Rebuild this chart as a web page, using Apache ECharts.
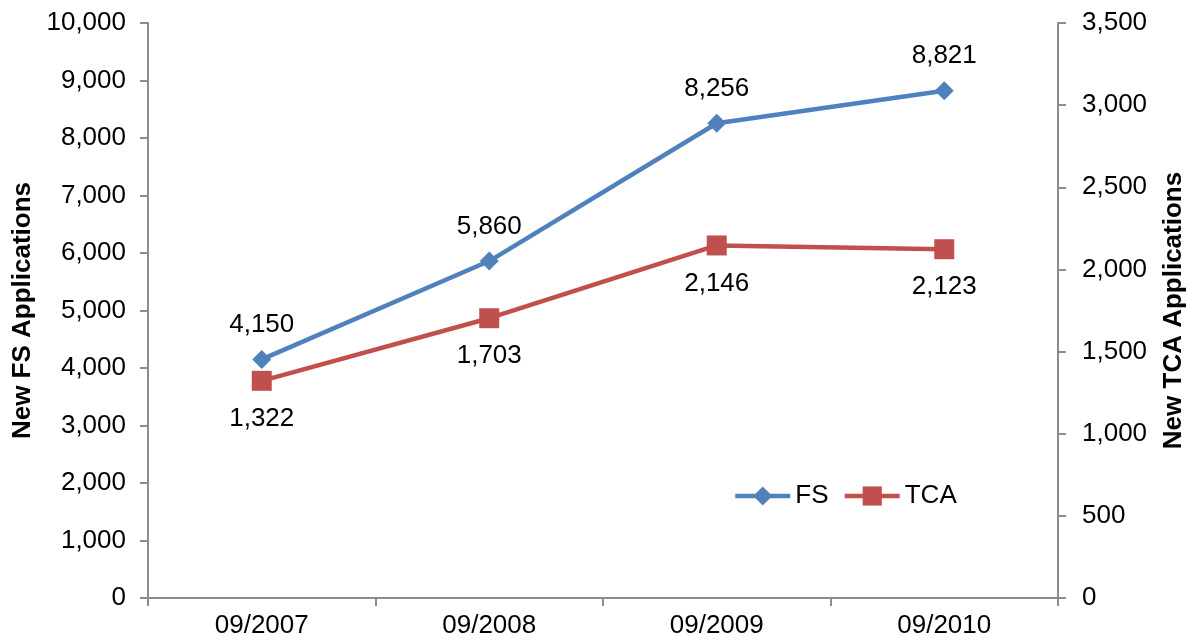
<!DOCTYPE html>
<html><head><meta charset="utf-8">
<script src="https://cdn.jsdelivr.net/npm/echarts@6/dist/echarts.min.js"></script>
<style>html,body{margin:0;padding:0;background:#fff}#c{width:1188px;height:642px}</style>
</head><body><div id="c"></div>
<script>
const categories = ['09/2007', '09/2008', '09/2009', '09/2010'];
const fsValues = [4150, 5860, 8256, 8821];
const tcaValues = [1322, 1703, 2146, 2123];
const leftTicks = {min: 0, max: 10000, interval: 1000};
const rightTicks = {min: 0, max: 3500, interval: 500};

const font = 'Liberation Sans, Arial, sans-serif';
const fmt = v => Number(v).toLocaleString('en-US');
const chart = echarts.init(document.getElementById('c'));
const axisLine = {show: true, lineStyle: {color: '#8c8c8c', width: 2}};
const tick = {show: true, length: 8, lineStyle: {color: '#8c8c8c', width: 2}};
chart.setOption({
  animation: false,
  textStyle: {fontFamily: font},
  grid: {left: 148, right: 130, top: 23, bottom: 44, containLabel: false, outerBoundsMode: 'none'},
  legend: {
    left: 733, top: 483, padding: 0, itemWidth: 55, itemHeight: 24, itemGap: 14,
    lineStyle: {width: 4.5},
    textStyle: {fontSize: 26, color: '#000', fontFamily: font},
    data: ['FS', 'TCA']
  },
  xAxis: {
    type: 'category', data: categories, boundaryGap: true,
    axisLine: axisLine, axisTick: tick,
    axisLabel: {fontSize: 26, color: '#000', margin: 15, fontFamily: font},
    splitLine: {show: false}
  },
  yAxis: [{
    type: 'value', min: leftTicks.min, max: leftTicks.max, interval: leftTicks.interval,
    name: 'New FS Applications', nameLocation: 'middle', nameGap: 112, nameRotate: 90,
    nameTextStyle: {fontSize: 26, fontWeight: 'bold', color: '#000', fontFamily: font},
    axisLine: axisLine, axisTick: tick,
    axisLabel: {fontSize: 26, color: '#000', margin: 22, formatter: fmt, fontFamily: font},
    splitLine: {show: false}
  }, {
    type: 'value', position: 'right', min: rightTicks.min, max: rightTicks.max, interval: rightTicks.interval,
    name: 'New TCA Applications', nameLocation: 'middle', nameGap: 103, nameRotate: 90,
    nameTextStyle: {fontSize: 26, fontWeight: 'bold', color: '#000', fontFamily: font},
    axisLine: axisLine, axisTick: tick,
    axisLabel: {fontSize: 26, color: '#000', margin: 24, formatter: fmt, fontFamily: font},
    splitLine: {show: false}
  }],
  series: [{
    name: 'FS', type: 'line', yAxisIndex: 0, data: fsValues,
    symbol: 'diamond', symbolSize: 19,
    lineStyle: {color: '#4F81BD', width: 4.5},
    itemStyle: {color: '#4F81BD'},
    label: {show: true, position: 'top', distance: 12, fontSize: 26, color: '#000', formatter: p => fmt(p.value), fontFamily: font}
  }, {
    name: 'TCA', type: 'line', yAxisIndex: 1, data: tcaValues,
    symbol: 'rect', symbolSize: 20,
    lineStyle: {color: '#C0504D', width: 4.5},
    itemStyle: {color: '#C0504D'},
    label: {show: true, position: 'bottom', distance: 15, fontSize: 26, color: '#000', formatter: p => fmt(p.value), fontFamily: font}
  }]
});
</script></body></html>
